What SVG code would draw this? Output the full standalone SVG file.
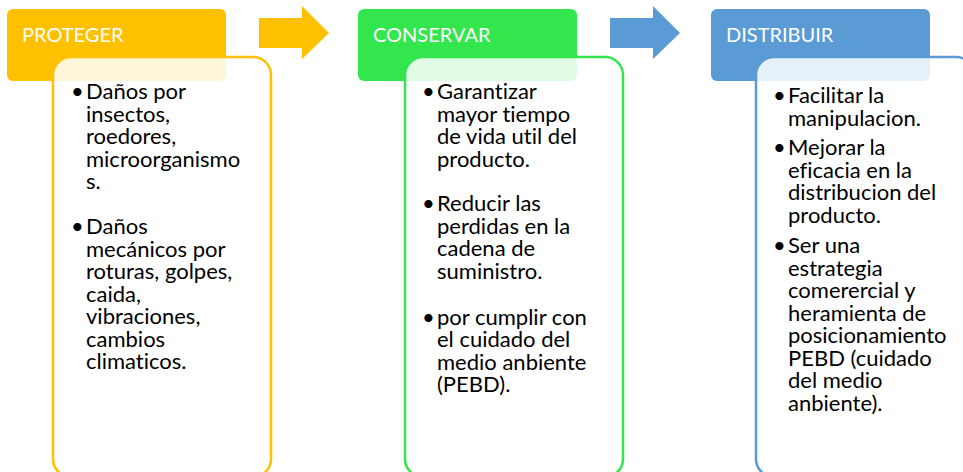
<svg xmlns="http://www.w3.org/2000/svg" width="963" height="472" viewBox="0 0 963 472">
<style>
.hdr{font-family:Lato,"Liberation Sans",sans-serif;font-size:20px;fill:#fff}
.body{font-family:Lato,"Liberation Sans",sans-serif;font-size:22px;fill:#000;font-variant-ligatures:none}
.box{fill:#fff;fill-opacity:0.85;stroke-width:2.5}
</style>
<rect width="963" height="472" fill="#fff"/>
<g id="connectors">
<polygon points="259,18 302,18 302,6 329,33 302,59 302,48 259,48" fill="#FFC000"/>
<polygon points="610,18 653,18 653,6 680,33 653,59 653,48 610,48" fill="#5B9BD5"/>
</g>
<g id="proteger">
<rect x="7" y="9" width="219" height="72" rx="6" fill="#FFC000"/>
<text class="hdr" x="22" y="42">PROTEGER</text>
<rect class="box" x="53" y="57" width="218" height="420" rx="18" stroke="#FFC000"/>
<text class="body">
<tspan x="71" y="99">•</tspan><tspan x="86" y="99">Daños por</tspan>
<tspan x="86" y="121.5">insectos,</tspan>
<tspan x="86" y="144">roedores,</tspan>
<tspan x="86" y="166.5">microorganismo</tspan>
<tspan x="86" y="189">s.</tspan>
<tspan x="71" y="234">•</tspan><tspan x="86" y="234">Daños</tspan>
<tspan x="86" y="256.5">mecánicos por</tspan>
<tspan x="86" y="279">roturas, golpes,</tspan>
<tspan x="86" y="301.5">caida,</tspan>
<tspan x="86" y="324">vibraciones,</tspan>
<tspan x="86" y="346.5">cambios</tspan>
<tspan x="86" y="369">climaticos.</tspan>
</text>
</g>
<g id="conservar">
<rect x="358" y="9" width="219" height="72" rx="6" fill="#33E64D"/>
<text class="hdr" x="373" y="42">CONSERVAR</text>
<rect class="box" x="405" y="57" width="218" height="420" rx="18" stroke="#33E64D"/>
<text class="body">
<tspan x="422" y="99">•</tspan><tspan x="437" y="99">Garantizar</tspan>
<tspan x="437" y="121.5">mayor tiempo</tspan>
<tspan x="437" y="144">de vida util del</tspan>
<tspan x="437" y="166.5">producto.</tspan>
<tspan x="422" y="211">•</tspan><tspan x="437" y="211">Reducir las</tspan>
<tspan x="437" y="233.5">perdidas en la</tspan>
<tspan x="437" y="256">cadena de</tspan>
<tspan x="437" y="278.5">suministro.</tspan>
<tspan x="422" y="324.5">•</tspan><tspan x="437" y="324.5">por cumplir con</tspan>
<tspan x="437" y="347">el cuidado del</tspan>
<tspan x="437" y="369.5">medio anbiente</tspan>
<tspan x="437" y="392">(PEBD).</tspan>
</text>
</g>
<g id="distribuir">
<rect x="711" y="9" width="219" height="72" rx="6" fill="#5B9BD5"/>
<text class="hdr" x="726" y="42">DISTRIBUIR</text>
<rect class="box" x="756" y="57" width="218" height="420" rx="18" stroke="#5B9BD5"/>
<text class="body">
<tspan x="773" y="103">•</tspan><tspan x="788" y="103">Facilitar la</tspan>
<tspan x="788" y="125.5">manipulacion.</tspan>
<tspan x="773" y="155">•</tspan><tspan x="788" y="155">Mejorar la</tspan>
<tspan x="788" y="177.5">eficacia en la</tspan>
<tspan x="788" y="200">distribucion del</tspan>
<tspan x="788" y="222.5">producto.</tspan>
<tspan x="773" y="253">•</tspan><tspan x="788" y="253">Ser una</tspan>
<tspan x="788" y="275.5">estrategia</tspan>
<tspan x="788" y="298">comerercial y</tspan>
<tspan x="788" y="320.5">heramienta de</tspan>
<tspan x="788" y="343">posicionamiento</tspan>
<tspan x="788" y="365.5">PEBD (cuidado</tspan>
<tspan x="788" y="388">del medio</tspan>
<tspan x="788" y="410.5">anbiente).</tspan>
</text>
</g>
</svg>
